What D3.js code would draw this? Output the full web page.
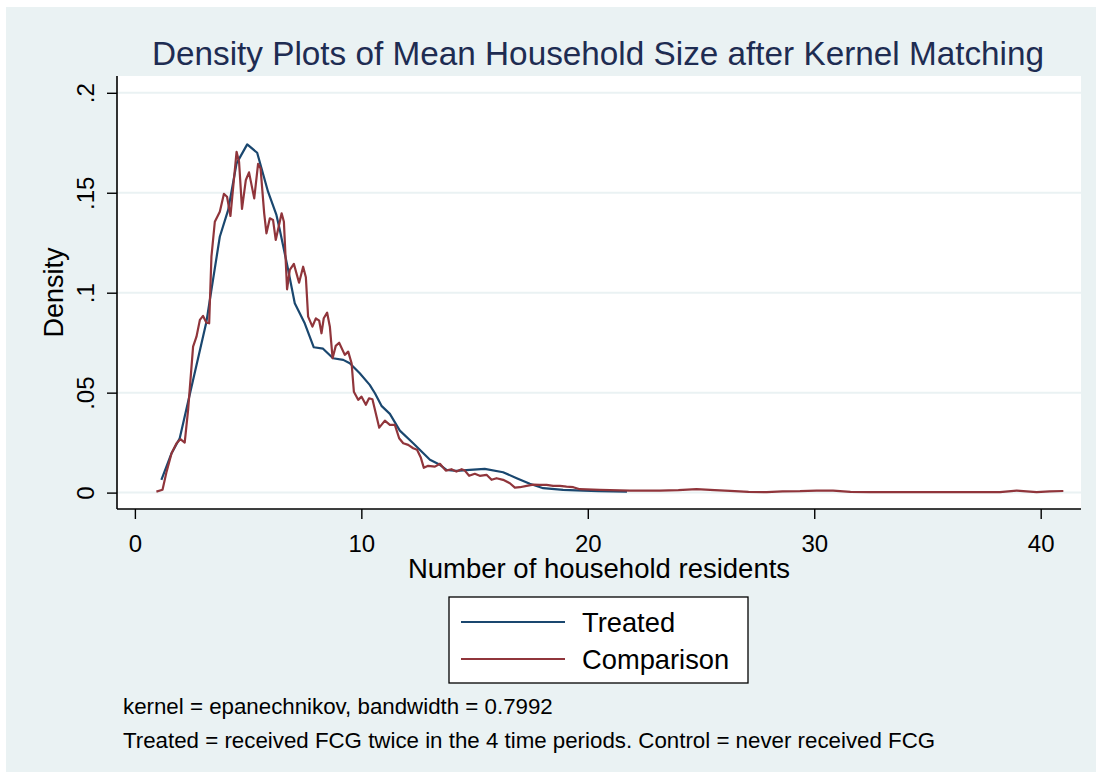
<!DOCTYPE html>
<html>
<head>
<meta charset="utf-8">
<script src="https://cdn.jsdelivr.net/npm/d3@7/dist/d3.min.js"></script>
<style>
  html, body { margin: 0; padding: 0; background: #ffffff; }
  svg { display: block; font-family: "Liberation Sans", Arial, sans-serif; }
</style>
</head>
<body>
<svg id="chart" width="1104" height="778"></svg>
<script>
// ---- Data ----
const chartTitle = "Density Plots of Mean Household Size after Kernel Matching";
const xTitle = "Number of household residents";
const yTitle = "Density";
const xTickValues = [0, 10, 20, 30, 40];
const xTickLabels = ["0", "10", "20", "30", "40"];
const yTickValues = [0, 0.05, 0.1, 0.15, 0.2];
const yTickLabels = ["0", ".05", ".1", ".15", ".2"];
const seriesNames = ["Treated", "Comparison"];
const notes = [
  "kernel = epanechnikov, bandwidth = 0.7992",
  "Treated = received FCG twice in the 4 time periods. Control = never received FCG"
];

// Treated (x = household residents, y = density)
const treatedX = [1.17, 1.62, 1.98, 3.16, 3.31, 3.75, 4.12, 4.49, 4.96, 5.40, 5.88, 6.25, 6.40, 6.77,
  7.06, 7.50, 7.90, 8.31, 8.75, 9.20, 9.49, 9.93, 10.37, 10.60, 10.89, 11.26, 11.70, 12.29, 13.03,
  13.47, 13.76, 14.20, 14.79, 15.45, 16.26, 16.86, 17.44, 18.03, 18.91, 19.80, 20.50, 21.73];
const treatedY = [0.0064, 0.0197, 0.0272, 0.0855, 0.0964, 0.128, 0.1414, 0.1647, 0.1742, 0.170, 0.1505,
  0.1389, 0.1314, 0.1114, 0.0947, 0.0847, 0.0727, 0.0720, 0.0672, 0.0664, 0.0647, 0.0597, 0.0539,
  0.0497, 0.0434, 0.0394, 0.0310, 0.0247, 0.0164, 0.0139, 0.0114, 0.0109, 0.0114, 0.0119, 0.0102,
  0.0072, 0.0044, 0.0022, 0.0014, 0.0010, 0.0007, 0.0005];

// Comparison
const compX = [0.95, 1.22, 1.40, 1.62, 1.84, 2.01, 2.20, 2.35, 2.57, 2.72, 2.87, 3.01, 3.16, 3.28, 3.38,
  3.53, 3.75, 3.93, 4.07, 4.22, 4.49, 4.60, 4.73, 4.90, 5.04, 5.27, 5.44, 5.55, 5.71, 5.81, 5.96, 6.10,
  6.22, 6.48, 6.58, 6.72, 6.84, 7.02, 7.25, 7.43, 7.55, 7.65, 7.84, 7.99, 8.14, 8.24, 8.34, 8.49, 8.61,
  8.73, 8.87, 9.02, 9.27, 9.42, 9.57, 9.67, 9.86, 10.01, 10.20, 10.34, 10.49, 10.79, 11.04, 11.26,
  11.48, 11.67, 11.85, 12.07, 12.29, 12.46, 12.63, 12.76, 12.95, 13.25, 13.47, 13.73, 13.98, 14.20,
  14.43, 14.57, 14.76, 15.01, 15.23, 15.53, 15.75, 15.97, 16.26, 16.56, 16.78, 17.00, 17.30, 17.59,
  17.88, 18.18, 18.47, 18.77, 19.06, 19.36, 19.65, 20.53, 21.86, 23.18, 24.00, 24.80, 25.60, 26.28,
  27.10, 27.90, 28.60, 29.37, 30.10, 30.83, 31.60, 32.46, 34.00, 36.00, 38.20, 38.94, 39.82, 40.40, 41.00];
const compY = [0.0005, 0.0014, 0.0105, 0.0197, 0.0247, 0.0267, 0.0250, 0.0414, 0.0730, 0.0780, 0.0864,
  0.0884, 0.0850, 0.0847, 0.1180, 0.1355, 0.1405, 0.1494, 0.1480, 0.1384, 0.1705, 0.1655, 0.1419,
  0.1564, 0.1602, 0.1472, 0.1644, 0.1622, 0.1397, 0.1297, 0.1372, 0.1364, 0.1264, 0.1397, 0.1355,
  0.1017, 0.1114, 0.1144, 0.1050, 0.1130, 0.1077, 0.0880, 0.0830, 0.0872, 0.0860, 0.0797, 0.0872,
  0.0900, 0.0830, 0.0672, 0.0734, 0.0750, 0.0689, 0.0705, 0.0647, 0.0505, 0.0464, 0.0480, 0.0439,
  0.0472, 0.0467, 0.0325, 0.0360, 0.0339, 0.0339, 0.0272, 0.0247, 0.0239, 0.0222, 0.0214, 0.0174,
  0.0124, 0.0134, 0.0130, 0.0144, 0.0110, 0.0117, 0.0105, 0.0117, 0.0110, 0.0084, 0.0094, 0.0084,
  0.0089, 0.0064, 0.0072, 0.0064, 0.0047, 0.0025, 0.0027, 0.0034, 0.0040, 0.0039, 0.0039, 0.0034,
  0.0034, 0.0030, 0.0027, 0.0017, 0.0014, 0.0010, 0.0010, 0.0012, 0.0017, 0.0012, 0.0009, 0.0004,
  0.0002, 0.0006, 0.0007, 0.0010, 0.0010, 0.0004, 0.0002, 0.0002, 0.0002, 0.0002, 0.0010, 0.0002,
  0.0006, 0.0008];

// ---- Drawing ----
const W = 1104, H = 778;
const svg = d3.select("#chart");
const navy = "#1a476f", maroon = "#90353b", bg = "#eaf2f3";

svg.append("rect").attr("x", 0).attr("y", 0).attr("width", W).attr("height", H).attr("fill", "#ffffff");
svg.append("rect").attr("x", 6).attr("y", 7).attr("width", 1090).attr("height", 765).attr("fill", bg);

const plot = { left: 117, right: 1081, top: 76, bottom: 509 };
const x = d3.scaleLinear().domain([-0.79, 41.78]).range([plot.left, plot.right]);
const y = d3.scaleLinear().domain([-0.0082, 0.2084]).range([plot.bottom, plot.top]);

svg.append("rect").attr("x", plot.left).attr("y", plot.top)
  .attr("width", plot.right - plot.left).attr("height", plot.bottom - plot.top).attr("fill", "#ffffff");

// gridlines
svg.append("g").selectAll("line").data(yTickValues).join("line")
  .attr("x1", plot.left).attr("x2", plot.right)
  .attr("y1", d => y(d)).attr("y2", d => y(d))
  .attr("stroke", bg).attr("stroke-width", 2);

// lines
const line = d3.line().x(d => x(d[0])).y(d => y(d[1]));
const treated = treatedX.map((v, i) => [v, treatedY[i]]);
const comp = compX.map((v, i) => [v, compY[i]]);
svg.append("path").datum(treated).attr("d", line).attr("fill", "none")
  .attr("stroke", navy).attr("stroke-width", 2.2).attr("stroke-linejoin", "round");
svg.append("path").datum(comp).attr("d", line).attr("fill", "none")
  .attr("stroke", maroon).attr("stroke-width", 2.2).attr("stroke-linejoin", "round");

// axes
const xAxis = d3.axisBottom(x).tickValues(xTickValues)
  .tickFormat((d, i) => xTickLabels[i]).tickSize(10).tickSizeOuter(0).tickPadding(6);
const gx = svg.append("g").attr("transform", `translate(0,${plot.bottom})`).call(xAxis);
gx.select(".domain").attr("stroke", "#000").attr("stroke-width", 1.6)
  .attr("d", `M${plot.left},0H${plot.right}`);
gx.selectAll(".tick line").attr("stroke", "#000").attr("stroke-width", 1.4);
gx.selectAll(".tick text").attr("font-size", 24).attr("fill", "#000")
  .attr("font-family", "Liberation Sans, Arial, sans-serif")
  .attr("dy", null).attr("y", 43);

const yAxis = d3.axisLeft(y).tickValues(yTickValues)
  .tickFormat((d, i) => yTickLabels[i]).tickSize(10).tickSizeOuter(0);
const gy = svg.append("g").attr("transform", `translate(${plot.left},0)`).call(yAxis);
gy.select(".domain").attr("stroke", "#000").attr("stroke-width", 1.6)
  .attr("d", `M0,${plot.top}V${plot.bottom}`);
gy.selectAll(".tick line").attr("stroke", "#000").attr("stroke-width", 1.4);
gy.selectAll(".tick text").attr("font-size", 24).attr("fill", "#000")
  .attr("font-family", "Liberation Sans, Arial, sans-serif")
  .attr("text-anchor", "middle").attr("dy", null)
  .attr("x", 0).attr("y", -23).attr("transform", "rotate(-90)");

// titles
svg.append("text").attr("x", 598).attr("y", 65).attr("text-anchor", "middle")
  .attr("font-size", 33.3).attr("fill", "#1e2c52").text(chartTitle);
svg.append("text").attr("x", (plot.left + plot.right) / 2).attr("y", 578).attr("text-anchor", "middle")
  .attr("font-size", 27.5).attr("fill", "#000").text(xTitle);
svg.append("text").attr("transform", `translate(63,${(plot.top + plot.bottom) / 2}) rotate(-90)`)
  .attr("text-anchor", "middle").attr("font-size", 27).attr("fill", "#000").text(yTitle);

// legend
const lg = svg.append("g");
lg.append("rect").attr("x", 449).attr("y", 597).attr("width", 299).attr("height", 86)
  .attr("fill", "#ffffff").attr("stroke", "#000").attr("stroke-width", 1.3);
const legendColors = [navy, maroon];
const legendY = [622, 659];
seriesNames.forEach((name, i) => {
  lg.append("line").attr("x1", 461).attr("x2", 565).attr("y1", legendY[i]).attr("y2", legendY[i])
    .attr("stroke", legendColors[i]).attr("stroke-width", 2.2);
  lg.append("text").attr("x", 582).attr("y", legendY[i] + 9.5).attr("font-size", 27.3)
    .attr("fill", "#000").text(name);
});

// notes
notes.forEach((t, i) => {
  svg.append("text").attr("x", 123).attr("y", 714 + i * 34).attr("font-size", 22.3)
    .attr("fill", "#000").text(t);
});
</script>
</body>
</html>
